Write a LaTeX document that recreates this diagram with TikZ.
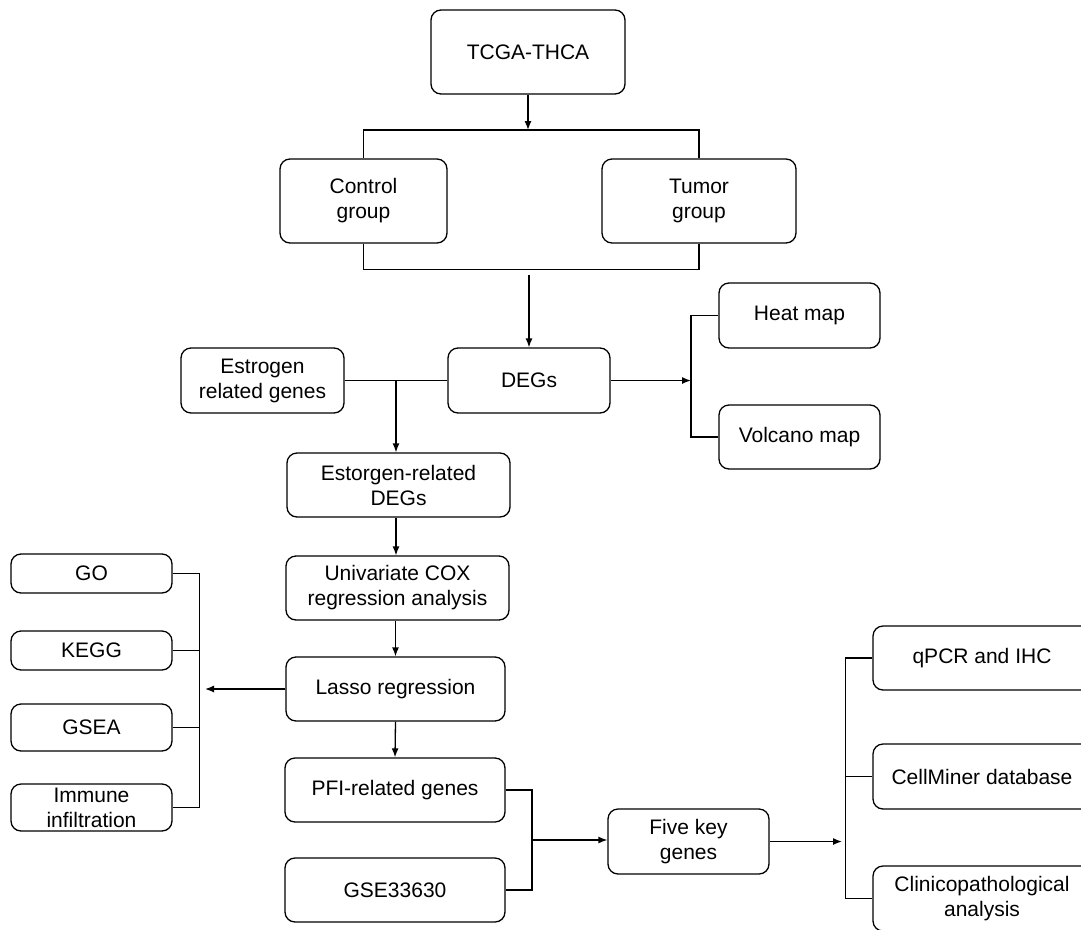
\documentclass[tikz,border=0pt]{standalone}
\usepackage{fontspec}
\setmainfont{Liberation Sans}
\usetikzlibrary{arrows.meta}
\begin{document}
\begin{tikzpicture}[x=1pt,y=-1pt,
  box/.style={draw, line width=1.3pt, rounded corners=10pt, align=center, inner sep=0pt,
    font=\fontsize{21}{25}\selectfont},
  ln/.style={line width=1.3pt},
  arr/.style={line width=1.3pt, -{Latex[length=9pt,width=7pt]}}]
\useasboundingbox (0,0) rectangle (1081,929);
\clip (0,0) rectangle (1081,929);
\fill[white] (0,0) rectangle (1081,929);
% nodes
\node[box, minimum width=194, minimum height=84] (tcga) at (528,52) {TCGA-THCA};
\node[box, minimum width=167, minimum height=84] (control) at (363.5,201) {Control\\group};
\node[box, minimum width=194, minimum height=84] (tumor) at (699,201) {Tumor\\group};
\node[box, minimum width=162, minimum height=65] (degs) at (529,380.5) {DEGs};
\node[box, minimum width=163, minimum height=65] (estro) at (262.5,380.5) {Estrogen\\related genes};
\node[box, minimum width=161, minimum height=65] (heat) at (799.5,315.5) {Heat map};
\node[box, minimum width=161, minimum height=64] (volc) at (799.5,437) {Volcano map};
\node[box, minimum width=223, minimum height=64] (edeg) at (398.5,485) {Estorgen-related\\DEGs};
\node[box, minimum width=223, minimum height=64] (univ) at (397.5,588) {Univariate COX\\regression analysis};
\node[box, minimum width=219, minimum height=64] (lasso) at (395.5,689) {Lasso regression};
\node[box, minimum width=220, minimum height=64] (pfi) at (395,790) {PFI-related genes};
\node[box, minimum width=220, minimum height=64] (gse) at (395,890) {GSE33630};
\node[box, minimum width=161, minimum height=39] (go) at (91.5,573.5) {GO};
\node[box, minimum width=161, minimum height=39] (kegg) at (91.5,650.5) {KEGG};
\node[box, minimum width=161, minimum height=47] (gsea) at (91.5,727.5) {GSEA};
\node[box, minimum width=161, minimum height=47] (immune) at (91.5,807.5) {Immune\\infiltration};
\node[box, minimum width=161, minimum height=65] (five) at (688.5,841.5) {Five key\\genes};
\node[box, minimum width=218, minimum height=64] (qpcr) at (982,658) {qPCR and IHC};
\node[box, minimum width=218, minimum height=65] (cell) at (982,776.5) {CellMiner database};
\node[box, minimum width=218, minimum height=65] (clin) at (982,898.5) {Clinicopathological\\analysis};
% coordinates
\coordinate (split) at (528,130);
\coordinate (merge) at (529,275);
\coordinate (ej) at (396,380.5);
\coordinate (hv) at (691,380.5);
\coordinate (lb) at (205,689);
\coordinate (pg) at (532,840);
\coordinate (fb) at (842,841.5);
% top
\draw[arr] (tcga.south -| split) -- (split);
\draw[ln] (control.north) -- (control.north |- split) -- (tumor.north |- split) -- (tumor.north);
\draw[ln] (control.south) -- ++(0,26) -| (tumor.south);
\draw[arr] (merge) -- (degs.north -| merge);
% DEGs row
\draw[ln] (estro.east) -- (degs.west);
\draw[arr] (ej) -- (edeg.north -| ej);
\draw[arr] (degs.east) -- (hv);
\draw[ln] (heat.west) -- (heat.west -| hv) -- (volc.west -| hv) -- (volc.west);
% vertical chain
\draw[arr] (edeg.south -| ej) -- (univ.north -| ej);
\draw[arr] (univ.south -| lasso) -- (lasso.north);
\draw[arr] (lasso.south) -- (pfi.north);
% left enrichment
\draw[ln] (go.east) -- ++(27,0) coordinate (gb) -- (gb |- immune.east) -- (immune.east);
\draw[ln] (kegg.east) -- (kegg.east -| gb);
\draw[ln] (gsea.east) -- (gsea.east -| gb);
\draw[arr] (lasso.west) -- (lb);
% PFI + GSE
\draw[ln] (pfi.east) -- (pfi.east -| pg) -- (gse.east -| pg) -- (gse.east);
\draw[arr] (pg) -- (five.west |- pg);
\draw[arr] (five.east) -- (fb);
\draw[ln] (qpcr.west) -- ++(-27,0) coordinate (rb) -- (rb |- clin.west) -- (clin.west);
\draw[ln] (cell.west) -- (cell.west -| rb);
\end{tikzpicture}
\end{document}
